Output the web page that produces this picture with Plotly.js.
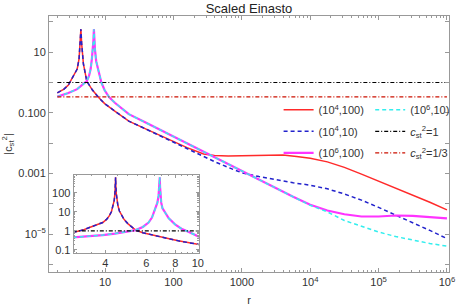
<!DOCTYPE html>
<html>
<head>
<meta charset="utf-8">
<script src="https://cdn.plot.ly/plotly-3.0.1.min.js"></script>
<style>html,body{margin:0;padding:0;background:#fff;}#plot{width:463px;height:306px;}</style>
</head>
<body>
<div id="plot"></div>
<script>
// ---- main panel data: r and |c_st^2| ----
const rRed = [2, 2.5, 2.9, 3.4, 3.9, 4.16, 4.32, 4.42, 4.53, 4.81, 5.4, 6.56, 8.24, 9.84, 14, 22.2, 39.8, 63.1, 100, 158, 275, 398, 631, 1000, 1585, 2512, 3981, 6310, 1e4, 1.78e4, 3.16e4, 5.62e4, 1e5, 1.78e5, 3.16e5, 5.62e5, 1e6];
const vRed = [0.45, 0.6, 0.82, 1.5, 2.75, 6.1, 20, 57, 20, 4.1, 1.09, 0.55, 0.30, 0.20, 0.112, 0.053, 0.0288, 0.0178, 0.011, 0.0071, 0.00437, 0.00389, 0.00372, 0.0038, 0.00398, 0.00417, 0.00407, 0.00363, 0.00316, 0.0024, 0.00158, 0.00095, 0.00056, 0.00033, 0.00019, 0.000112, 6.3e-5];

const rBlue = [2, 2.5, 2.9, 3.4, 3.9, 4.16, 4.32, 4.42, 4.53, 4.81, 5.4, 6.56, 8.24, 9.84, 14, 22.2, 39.8, 63.1, 100, 158, 251, 398, 631, 1000, 1778, 3162, 5623, 1e4, 1.78e4, 3.16e4, 5.62e4, 1e5, 1.78e5, 3.16e5, 5.62e5, 1e6];
const vBlue = [0.45, 0.6, 0.82, 1.5, 2.75, 6.1, 20, 57, 20, 4.1, 1.09, 0.55, 0.30, 0.20, 0.112, 0.053, 0.0288, 0.0174, 0.0105, 0.00646, 0.00398, 0.00245, 0.00158, 0.00105, 0.00079, 0.00062, 0.00049, 0.00041, 0.00031, 0.00021, 0.000132, 7.6e-5, 4.3e-5, 2.4e-5, 1.32e-5, 7.1e-6];

const rMag = [2, 2.9, 3.9, 4.9, 5.4, 5.8, 6.14, 6.4, 6.6, 6.75, 6.85, 6.95, 7.1, 7.4, 7.98, 8.8, 9.84, 11.4, 14, 18, 22.2, 39.8, 63.1, 100, 178, 316, 562, 1000, 1778, 3162, 5623, 1e4, 1.78e4, 3.16e4, 5.62e4, 1e5, 1.78e5, 3.16e5, 5.62e5, 1e6];
const vMag = [0.34, 0.45, 0.6, 0.88, 1.1, 1.6, 2.75, 6, 12, 25, 57, 25, 12, 5, 2.2, 1.0, 0.55, 0.33, 0.21, 0.135, 0.090, 0.0466, 0.0276, 0.0158, 0.0081, 0.00427, 0.00224, 0.00117, 0.000617, 0.000324, 0.00017, 9.3e-5, 6.0e-5, 4.5e-5, 3.8e-5, 3.8e-5, 4.1e-5, 4.0e-5, 3.6e-5, 3.3e-5];

const rCyan = [2, 2.9, 3.9, 4.9, 5.4, 5.8, 6.14, 6.4, 6.6, 6.75, 6.85, 6.95, 7.1, 7.4, 7.98, 8.8, 9.84, 11.4, 14, 18, 22.2, 39.8, 63.1, 100, 178, 316, 562, 1000, 1778, 3162, 5623, 1e4, 1.78e4, 3.16e4, 5.62e4, 1e5, 1.78e5, 3.16e5, 5.62e5, 1e6];
const vCyan = [0.34, 0.45, 0.6, 0.88, 1.1, 1.6, 2.75, 6, 12, 25, 57, 25, 12, 5, 2.2, 1.0, 0.55, 0.33, 0.21, 0.135, 0.090, 0.0466, 0.0276, 0.0158, 0.0081, 0.00427, 0.00224, 0.00117, 0.000617, 0.000324, 0.00017, 8.9e-5, 5.4e-5, 2.8e-5, 1.78e-5, 1.17e-5, 8.3e-6, 6.2e-6, 4.9e-6, 4.0e-6];

const rRef = [2, 1e6];
const vOne = [1, 1];
const vThird = [1/3, 1/3];

// ---- inset data (3 < r < 10) ----
const rRedIn = [2.9, 3.2, 3.42, 3.65, 3.9, 4.05, 4.16, 4.25, 4.32, 4.37, 4.40, 4.42, 4.43, 4.44, 4.46, 4.49, 4.53, 4.6, 4.7, 4.81, 5.0, 5.2, 5.4, 5.8, 6.2, 6.56, 7.2, 7.7, 8.24, 9.0, 9.84, 10.2];
const vRedIn = [0.82, 1.1, 1.5, 2.0, 2.75, 4.0, 6.1, 10, 20, 40, 90, 250, 650, 250, 90, 40, 22, 11, 6.2, 4.1, 2.4, 1.55, 1.09, 0.8, 0.65, 0.55, 0.42, 0.36, 0.30, 0.25, 0.20, 0.19];
const rMagIn = [2.9, 3.4, 3.9, 4.4, 4.9, 5.4, 5.8, 6.14, 6.35, 6.56, 6.7, 6.78, 6.83, 6.86, 6.88, 6.91, 6.96, 7.05, 7.23, 7.5, 7.98, 8.5, 9.2, 9.84, 10.2];
const vMagIn = [0.45, 0.52, 0.6, 0.72, 0.88, 1.1, 1.6, 2.75, 5, 13.7, 30, 70, 200, 650, 200, 70, 30, 15, 9.2, 4.5, 2.2, 1.3, 0.85, 0.55, 0.47];
const rInRef = [2.9, 10.2];

// ---- tick labels ----
const xTickVals = [10, 100, 1000, 1e4, 1e5, 1e6];
const xTickText = ['10', '100', '1000', '10<sup>4</sup>', '10<sup>5</sup>', '10<sup>6</sup>'];
const yTickVals = [1e-5, 1e-3, 0.1, 10];
const yTickText = ['10<sup>−5</sup>', '0.001', '0.100', '10'];
const yMinorVals = [1e-6, 1e-4, 1e-2, 1, 100];
const xInVals = [4, 6, 8, 10];
const xInText = ['4', '6', '8', '10'];
const xInMinor = [3, 3.5, 4.5, 5, 5.5, 6.5, 7, 7.5, 8.5, 9, 9.5];
const yInVals = [0.1, 1, 10, 100];
const yInText = ['0.1', '1', '10', '100'];

const names = ['(10<sup>4</sup>,100)', '(10<sup>4</sup>,10)', '(10<sup>6</sup>,100)', '(10<sup>6</sup>,10)',
  '<i>c</i><sub>st</sub><sup>2</sup>=1', '<i>c</i><sub>st</sub><sup>2</sup>=1/3'];

const RED = '#ff2a2a', BLUE = '#2222cc', MAG = '#ff33ff', CYAN = '#33eeee', BLK = '#000000', DRED = '#cc1100';

const traces = [
  {x: rRed, y: vRed, name: names[0], legend: 'legend', legendgroup: 'a', line: {color: RED, width: 1.5}},
  {x: rBlue, y: vBlue, name: names[1], legend: 'legend', legendgroup: 'b', line: {color: BLUE, width: 1.5, dash: '4px,3px'}},
  {x: rMag, y: vMag, name: names[2], legend: 'legend', legendgroup: 'c', line: {color: MAG, width: 2.2}},
  {x: rCyan, y: vCyan, name: names[3], legend: 'legend2', legendgroup: 'd', line: {color: CYAN, width: 1.5, dash: '4px,3px'}},
  {x: rRef, y: vOne, name: names[4], legend: 'legend2', legendgroup: 'e', line: {color: BLK, width: 1.1, dash: '4px,2px,1px,2px'}},
  {x: rRef, y: vThird, name: names[5], legend: 'legend2', legendgroup: 'f', line: {color: DRED, width: 1.1, dash: '4px,2px,1px,2px'}},
  // inset
  {x: rRedIn, y: vRedIn, xaxis: 'x2', yaxis: 'y2', showlegend: false, line: {color: RED, width: 1.5}},
  {x: rRedIn, y: vRedIn, xaxis: 'x2', yaxis: 'y2', showlegend: false, line: {color: BLUE, width: 1.5, dash: '4px,3px'}},
  {x: rMagIn, y: vMagIn, xaxis: 'x2', yaxis: 'y2', showlegend: false, line: {color: MAG, width: 2.2}},
  {x: rMagIn, y: vMagIn, xaxis: 'x2', yaxis: 'y2', showlegend: false, line: {color: CYAN, width: 1.5, dash: '4px,3px'}},
  {x: rInRef, y: [1, 1], xaxis: 'x2', yaxis: 'y2', showlegend: false, line: {color: BLK, width: 1.1, dash: '4px,2px,1px,2px'}}
].map(t => Object.assign({type: 'scatter', mode: 'lines', hoverinfo: 'skip'}, t));

const AX = '#999999', TXT = '#333333';
const F = 'Liberation Sans, Arial, sans-serif';

const layout = {
  width: 463, height: 306,
  margin: {l: 49, r: 8, t: 16, b: 34},
  paper_bgcolor: '#fff', plot_bgcolor: '#fff',
  font: {family: F, size: 11, color: TXT},
  title: {text: 'Scaled Einasto', font: {size: 13, color: '#222'}, xref: 'paper', x: 0.5, xanchor: 'center', yref: 'container', y: 0.972, yanchor: 'middle'},
  showlegend: true,
  xaxis: {
    type: 'log', range: [0.179, 6.03], showgrid: false, zeroline: false,
    showline: true, linecolor: AX, linewidth: 1, mirror: 'allticks',
    ticks: 'inside', ticklen: 4, tickcolor: AX, tickvals: xTickVals, ticktext: xTickText,
    minor: {ticks: 'inside', ticklen: 2, tickcolor: AX, dtick: 'D1', showgrid: false},
    tickfont: {size: 11, color: TXT},
    title: {text: 'r', font: {size: 11, color: TXT}, standoff: 11}
  },
  yaxis: {
    type: 'log', range: [-6.25, 2.19], showgrid: false, zeroline: false,
    showline: true, linecolor: AX, linewidth: 1, mirror: 'allticks',
    ticks: 'inside', ticklen: 4, tickcolor: AX, tickvals: yTickVals, ticktext: yTickText,
    minor: {ticks: 'inside', ticklen: 4, tickcolor: AX, tickvals: yMinorVals, showgrid: false},
    tickfont: {size: 11, color: TXT},
    title: {text: '|c<sub>st</sub><sup>2</sup>|', font: {size: 11, color: TXT}, standoff: 6}
  },
  xaxis2: {
    type: 'log', domain: [0.0616, 0.3744], anchor: 'y2', range: [0.466, 1.004],
    showgrid: false, zeroline: false, showline: true, linecolor: AX, mirror: 'allticks',
    ticks: 'inside', ticklen: 3, tickcolor: AX, tickvals: xInVals, ticktext: xInText,
    minor: {ticks: 'inside', ticklen: 1.5, tickcolor: AX, tickvals: xInMinor, showgrid: false},
    tickfont: {size: 11, color: TXT}
  },
  yaxis2: {
    type: 'log', domain: [0.0742, 0.379], anchor: 'x2', range: [-1.16, 2.93],
    showgrid: false, zeroline: false, showline: true, linecolor: AX, mirror: 'allticks',
    ticks: 'inside', ticklen: 3, tickcolor: AX, tickvals: yInVals, ticktext: yInText,
    minor: {ticks: 'inside', ticklen: 1.5, tickcolor: AX, dtick: 'D1', showgrid: false},
    tickfont: {size: 11, color: TXT}
  },
  legend: {x: 0.574, xanchor: 'left', y: 0.69, yanchor: 'top', bgcolor: 'rgba(0,0,0,0)',
    orientation: 'v', traceorder: 'grouped', tracegroupgap: 2.5, font: {size: 11, color: TXT}},
  legend2: {x: 0.803, xanchor: 'left', y: 0.69, yanchor: 'top', bgcolor: 'rgba(0,0,0,0)',
    orientation: 'v', traceorder: 'grouped', tracegroupgap: 2.5, font: {size: 11, color: TXT}}
};

Plotly.newPlot('plot', traces, layout, {staticPlot: true, displayModeBar: false});
</script>
</body>
</html>
